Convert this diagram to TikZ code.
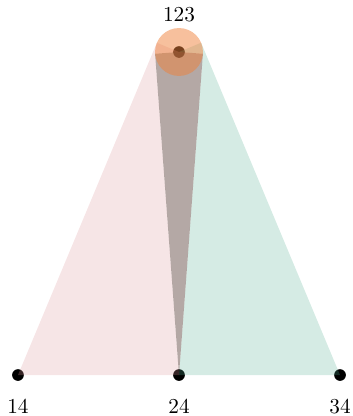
\documentclass[tikz,border=0pt]{standalone}
\usetikzlibrary{calc, positioning}

\definecolor{facepink}{RGB}{220,150,155}
\definecolor{facegreen}{RGB}{87,175,147}
\definecolor{facegray}{RGB}{105,81,75}
\definecolor{hubfill}{RGB}{239,129,59}

\begin{document}
\begin{tikzpicture}[
  vert/.style={circle, fill=black, inner sep=0pt, minimum size=5.5pt},
  hub/.style={circle, inner sep=0pt, outer sep=0pt, minimum size=0.792cm}
]
\def\rhub{0.396}
\useasboundingbox (-2.957,-0.677) rectangle (2.874,6.195);

\node[vert] (v14) at (-2.66,0) {};
\node[vert] (v24) at (0,0) {};
\node[vert] (v34) at (2.66,0) {};
\node[vert] (v123) at (0,5.336) {};
\node[hub] (h123) at (v123) {};

\coordinate (t14) at (tangent cs:node=h123,point={(v14.center)},solution=2);
\coordinate (t34) at (tangent cs:node=h123,point={(v34.center)},solution=1);
\coordinate (t24l) at (tangent cs:node=h123,point={(v24.center)},solution=2);
\coordinate (t24r) at (tangent cs:node=h123,point={(v24.center)},solution=1);

\fill[facepink, fill opacity=0.25] (v14.center) -- (t14) -- (v123.center) -- (t24l) -- (v24.center) -- cycle;
\fill[facegreen, fill opacity=0.25] (v34.center) -- (t34) -- (v123.center) -- (t24r) -- (v24.center) -- cycle;
\fill[facegray, fill opacity=0.5] (v24.center) -- (t24l) -- (v123.center) -- (t24r) -- cycle;

\fill[hubfill, fill opacity=0.5] (v123.center) circle (\rhub);

\node[above=0.264cm of v123] (l123) {123};
\node[below=0.165cm of v14] (l14) {14};
\node[below=0.165cm of v24] (l24) {24};
\node[below=0.165cm of v34] (l34) {34};
\end{tikzpicture}
\end{document}
